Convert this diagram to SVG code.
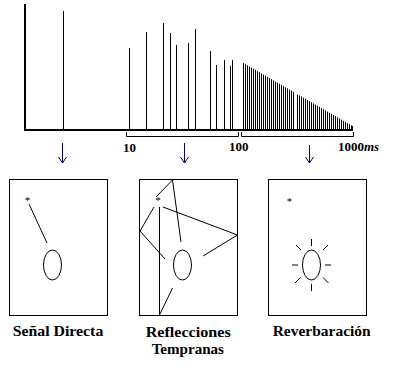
<svg xmlns="http://www.w3.org/2000/svg" width="397" height="372" viewBox="0 0 397 372">
<style>
.ax{stroke:#000;stroke-width:2;fill:none}
.sp{stroke:#000;stroke-width:1;fill:none}
.br{stroke:#000;stroke-width:1;fill:none}
.ar{stroke:#000080;stroke-width:1;fill:none}
.bx{stroke:#000;stroke-width:1;fill:#fff}
.ln{stroke:#000;stroke-width:1;fill:none}
text{font-family:'Liberation Serif','Times New Roman','DejaVu Serif',serif}
.num{font-weight:bold;font-size:13px;fill:#000}
.lbl{font-weight:bold;font-size:14.5px;fill:#000}
.st{font-size:11px;fill:#000;text-anchor:middle}
</style>
<rect width="397" height="372" fill="#fff"/>
<g id="chart">
<path class="ax" d="M25,4V131M24,130H353"/>
<g id="direct"><path class="sp" d="M63.5,11V129"/></g>
<g id="early">
<path class="sp" d="M129.5,48V129M146.5,32V129M163.5,23V129M170.5,33V129M176.5,45V129M188.5,43V129M195.5,29V129M210.5,51V129M216.5,65V129M224.5,60V129M230.5,66V129M232.5,60V129"/>
</g>
<g id="reverb">
<path class="sp" d="M243.5,63V129M245.5,64.2V129M247.5,65.3V129M249.5,66.5V129M251.5,67.6V129M253.5,68.8V129M255.5,69.9V129M257.5,71.1V129M259.5,72.2V129M261.5,73.4V129M263.5,74.6V129M265.5,75.7V129M267.5,76.9V129M269.5,78V129M271.5,79.2V129M273.5,80.3V129M275.5,81.5V129M277.5,82.6V129M279.5,83.8V129M281.5,84.9V129M283.5,86.1V129M285.5,87.3V129M287.5,88.4V129M289.5,89.6V129M291.5,90.7V129M293.5,91.9V129M297.5,94.8V129M299.5,95.4V129M301.5,96.5V129M303.5,97.7V129M305.5,98.8V129M307.5,100V129M309.5,101.1V129M311.5,102.3V129M313.5,103.4V129M315.5,104.6V129M317.5,105.8V129M319.5,106.9V129M321.5,108.1V129M323.5,109.2V129M325.5,110.4V129M327.5,111.5V129M329.5,112.7V129M331.5,113.8V129M333.5,115V129M335.5,116.2V129M337.5,117.3V129M339.5,118.5V129M341.5,119.6V129M343.5,120.8V129M345.5,121.9V129M347.5,123.1V129M349.5,124.2V129M351.5,125.4V129M352.5,126V129"/>
</g>
<path class="br" d="M126.5,132V136.5H238.5V132M241.5,132V136.5H353.5V132"/>
<text class="num" x="123" y="152" font-family="Liberation Serif, serif">10</text>
<text class="num" x="229" y="151" font-family="Liberation Serif, serif">100</text>
<text class="num" x="338" y="151" font-family="Liberation Serif, serif">1000<tspan font-style="italic">ms</tspan></text>
</g>
<g id="connectors">
<path class="ar" d="M62.5,143V163M58.5,157L62.5,163L66.5,157"/>
<path class="ar" d="M184.5,143V163M180.5,157L184.5,163L188.5,157"/>
<path class="ar" d="M309.5,145V163M305.5,157L309.5,163L313.5,157"/>
</g>
<g id="senal-directa">
<rect class="bx" x="9.5" y="179.5" width="98" height="136"/>
<text class="st" x="27.5" y="204">*</text>
<path class="ln" d="M29,204L47,243"/>
<ellipse class="ln" cx="52.5" cy="265" rx="9" ry="15"/>
<text class="lbl" x="12.7" y="336" textLength="90.6" lengthAdjust="spacingAndGlyphs">Señal Directa</text>
</g>
<g id="reflecciones">
<rect class="bx" x="139.5" y="179.5" width="98" height="136"/>
<text class="st" x="158" y="204">*</text>
<path class="ln" d="M156,197L172.5,180L181,242M159.5,207V315L172.5,288M154,207L140,231L165,259M163,207L237.5,235L203,256"/>
<ellipse class="ln" cx="182.5" cy="265" rx="9" ry="15"/>
<text class="lbl" x="145.7" y="337" textLength="85" lengthAdjust="spacingAndGlyphs">Reflecciones</text>
<text class="lbl" x="151.7" y="354" textLength="72.3" lengthAdjust="spacingAndGlyphs">Tempranas</text>
</g>
<g id="reverberacion">
<rect class="bx" x="268.5" y="179.5" width="98" height="136"/>
<text class="st" x="289.5" y="205">*</text>
<ellipse class="ln" cx="311.5" cy="265" rx="9" ry="15"/>
<path class="ln" d="M311.5,239V246M311.5,284V291M292,265H298M325,265H331M296,245L301,250M328,245L323,250M295,283L300.5,277.5M328.5,283L323,277.5"/>
<text class="lbl" x="272.7" y="336" textLength="98" lengthAdjust="spacingAndGlyphs">Reverbaración</text>
</g>
</svg>
